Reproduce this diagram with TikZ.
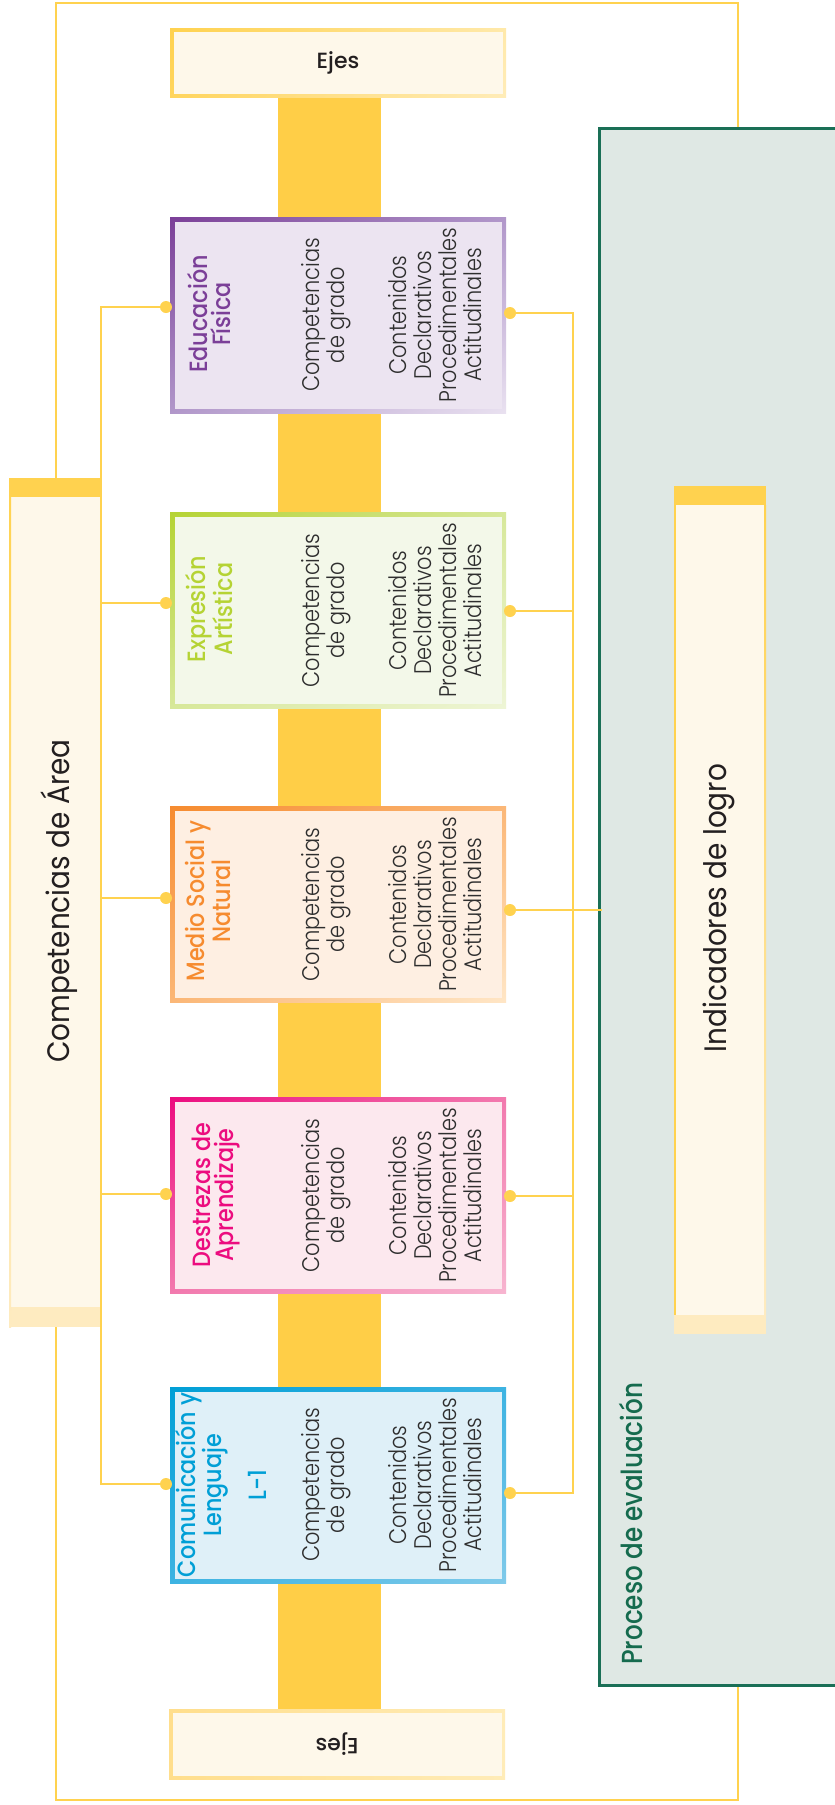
\documentclass[tikz,border=0pt]{standalone}
\usepackage{fontspec}
\usetikzlibrary{shadings}
\newfontfamily\bodyf{Poppins Light}[FakeStretch=0.87]
\newfontfamily\medf{Poppins Medium}[FakeStretch=0.89]
\newfontfamily\pef{Poppins Medium}[FakeStretch=0.85]
\newfontfamily\ejf{Poppins Medium}
\newfontfamily\regf{Poppins}[FakeStretch=0.9]
\definecolor{cyel}{HTML}{FFD24F}
\definecolor{cband}{HTML}{FFCE47}
\definecolor{ccream}{HTML}{FEF8EA}
\definecolor{clight}{HTML}{FEEBC0}
\definecolor{gfill}{HTML}{DFE8E4}
\definecolor{gline}{HTML}{1A6F56}
\definecolor{gtext}{HTML}{156B4E}
\definecolor{ctext}{HTML}{2E2E2E}
\definecolor{ctitle}{HTML}{231F20}
\definecolor{ejA}{HTML}{FFD24F}
\definecolor{ejB}{HTML}{FFE9AA}
\definecolor{ejC}{HTML}{FFD55E}
\definecolor{ejD}{HTML}{FFECB8}
\definecolor{ejE}{HTML}{FFDE8C}
\definecolor{eduA}{HTML}{7B3F98}
\definecolor{eduB}{HTML}{B197CA}
\definecolor{eduC}{HTML}{E9E1F0}
\definecolor{eduF}{HTML}{ECE4F1}
\definecolor{expA}{HTML}{B5D334}
\definecolor{expB}{HTML}{D7E89A}
\definecolor{expC}{HTML}{EEF5D6}
\definecolor{expF}{HTML}{F3F8E9}
\definecolor{medA}{HTML}{F68B2F}
\definecolor{medB}{HTML}{FBB777}
\definecolor{medC}{HTML}{FFE6C6}
\definecolor{medF}{HTML}{FEEFE2}
\definecolor{desA}{HTML}{EC0C7F}
\definecolor{desB}{HTML}{F27AAE}
\definecolor{desC}{HTML}{F7B5D0}
\definecolor{desF}{HTML}{FCE8EE}
\definecolor{comA}{HTML}{009FD6}
\definecolor{comB}{HTML}{3DB3E2}
\definecolor{comC}{HTML}{80CAEA}
\definecolor{comF}{HTML}{DFF0F8}
\begin{document}
\begin{tikzpicture}[x=1pt,y=-1pt,
  conn/.style={draw=cyel, line width=2.3pt},
  frameline/.style={draw=cyel, line width=2pt},
  dotc/.style={circle, fill=cyel, inner sep=0pt, minimum size=12pt},
  subj/.style={shade, minimum width=336pt, minimum height=196pt, inner sep=0pt, outer sep=0pt},
  ejesbox/.style={shade, minimum width=336pt, minimum height=69pt, inner sep=0pt, outer sep=0pt},
  tallbox/.style={fill=ccream, minimum width=92pt, inner sep=0pt, outer sep=0pt, anchor=north west},
  body/.style={rotate=90, inner sep=0pt, align=center, text=ctext, font=\bodyf\fontsize{24}{25}\selectfont},
  ttl/.style={rotate=90, inner sep=0pt, align=center, font=\medf\fontsize{25}{23.5}\selectfont},
  big/.style={rotate=90, inner sep=0pt, text=ctitle, font=\regf\fontsize{31}{34}\selectfont},
  ejestxt/.style={inner sep=0pt, text=ctitle, font=\ejf\fontsize{22}{26}\selectfont},
]
\useasboundingbox (0,0) rectangle (835,1805);
\fill[white] (0,0) rectangle (835,1805);
% outer frame
\draw[frameline] (56,2.5) rectangle (738,1800);
% central band
\fill[cband] (278,97) rectangle (381,1709);
% Proceso de evaluacion
\node[draw=gline, fill=gfill, line width=2.5pt, minimum width=260pt, minimum height=1557pt, inner sep=0pt, anchor=north west] (pe) at (598,127) {};
\node[rotate=90, anchor=west, inner sep=0pt, text=gtext, font=\pef\fontsize{29}{32}\selectfont] (pet) at (631,1665) {Proceso de evaluación};
% Competencias de Area
\node[tallbox, minimum height=849pt] (ca) at (9,478) {};
\fill[cyel] (ca.north west) rectangle ([yshift=-19pt]ca.north east);
\fill[clight] (ca.south west) rectangle ([yshift=20pt]ca.south east);
\shade[top color=cyel, bottom color=clight] (ca.north west) rectangle ([xshift=2pt]ca.south west);
\node[big] (catext) at (59,901) {Competencias de Área};
% Indicadores de logro
\node[tallbox, minimum height=848pt] (il) at (674,486) {};
\fill[cyel] (il.north west) rectangle ([yshift=-19pt]il.north east);
\fill[clight] (il.south west) rectangle ([yshift=19pt]il.south east);
\draw[cyel, line width=1.5pt] ([xshift=0.75pt,yshift=-19pt]il.north west) -- ([xshift=0.75pt,yshift=19pt]il.south west);
\shade[top color=cyel, bottom color=clight] ([xshift=-2pt,yshift=-19pt]il.north east) rectangle ([yshift=19pt]il.south east);
\node[big] (iltext) at (719,908) {Indicadores de logro};
% Ejes boxes
\node[ejesbox, upper left=ejA, upper right=ejB, lower left=ejC, lower right=ejD] (ejT) at (338,62.5) {};
\fill[ccream] ([shift={(3.5,3.5)}]ejT.north west) rectangle ([shift={(-3.5,-3.5)}]ejT.south east);
\node[ejestxt] (ejTt) at (338,62.5) {Ejes};
\node[ejesbox, minimum height=70pt, upper left=ejE, upper right=ejD, lower left=ejE, lower right=ejD] (ejB) at (337,1744.5) {};
\fill[ccream] ([shift={(3.5,3.5)}]ejB.north west) rectangle ([shift={(-3.5,-3.5)}]ejB.south east);
\node[ejestxt, rotate=180] (ejBt) at (337,1744.5) {Ejes};
% subject boxes
\foreach \n/\yc/\yl/\yr/\cA/\cB/\cC/\cF in {
  edu/315/8/2/eduA/eduB/eduC/eduF,
  exp/610.5/7.5/-0.5/expA/expB/expC/expF,
  med/904.5/6.5/-5.5/medA/medB/medC/medF,
  des/1195.5/1.5/-0.5/desA/desB/desC/desF,
  com/1485/1/-8/comA/comB/comC/comF}{
  \node[subj, upper left=\cA, upper right=\cB, lower left=\cB, lower right=\cC] (\n) at (338,\yc) {};
  \fill[\cF] ([shift={(4.5,4.5)}]\n.north west) rectangle ([shift={(-4.5,-4.5)}]\n.south east);
  \coordinate (\n-l) at ([yshift=\yl pt]\n.west);
  \coordinate (\n-r) at ([yshift=\yr pt]\n.east);
  \node[body] (\n-cg) at (326,\yc) {Competencias\\de grado};
  \node[body] (\n-ct) at (435,\yc) {Contenidos\\Declarativos\\Procedimentales\\Actitudinales};
}
\node[ttl, text=eduA] (edu-t) at (209,314) {Educación\\Física};
\node[ttl, text=expA] (exp-t) at (209,609) {Expresión\\Artística};
\node[ttl, text=medA] (med-t) at (208,901) {Medio Social y\\Natural};
\node[ttl, text=desA] (des-t) at (216,1195) {Destrezas de\\Aprendizaje};
\node[ttl, text=comA] (com-t) at (221,1485) {Comunicación y\\Lenguaje\\[19pt]L-1};
% connectors
\coordinate (bus) at (573,0);
\draw[conn] (edu-l) -- (edu-l -| ca.east) -- (com-l -| ca.east) -- (com-l);
\foreach \n in {exp,med,des} \draw[conn] (\n-l) -- (\n-l -| ca.east);
\draw[conn] (edu-r) -- (edu-r -| bus) -- (com-r -| bus) -- (com-r);
\foreach \n in {exp,des} \draw[conn] (\n-r) -- (\n-r -| bus);
\draw[conn] (med-r) -- ([xshift=4pt]med-r -| pe.west);
\foreach \n in {edu,exp,med,des,com}{
  \node[dotc] (\n-ld) at ([xshift=-4pt]\n-l) {};
  \node[dotc] (\n-rd) at ([xshift=4pt]\n-r) {};
}
\end{tikzpicture}
\end{document}
